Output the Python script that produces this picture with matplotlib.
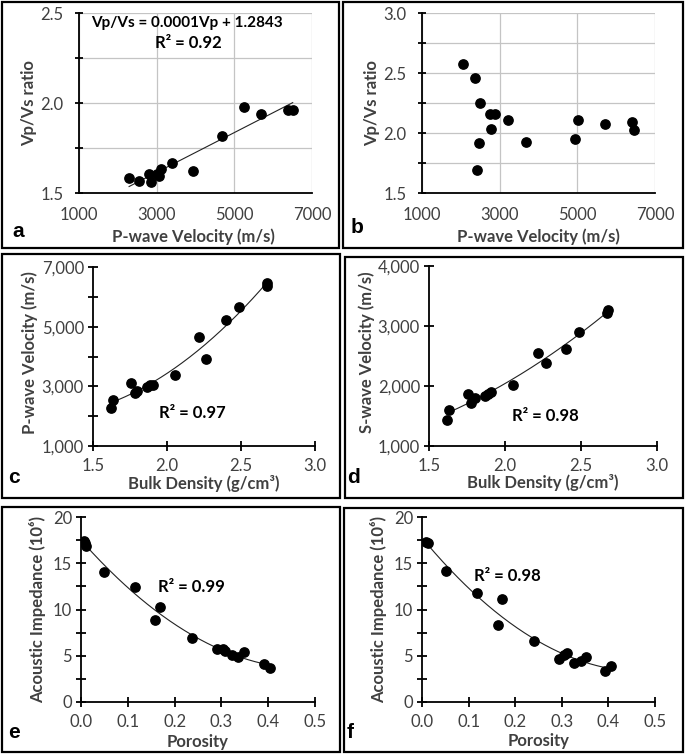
import numpy as np
import matplotlib
matplotlib.use("Agg")
import matplotlib.pyplot as plt
from matplotlib.patches import Rectangle
from matplotlib.ticker import MultipleLocator, FuncFormatter

plt.rcParams['font.family'] = ['Lato', 'DejaVu Sans']

# ---- data ----
# a: Vp vs Vp/Vs
a_vp = [2290, 2556, 2806, 2857, 3003, 3072, 3115, 3390, 3923, 4680, 5247, 5686, 6374, 6503]
a_ratio = [1.585, 1.569, 1.604, 1.561, 1.608, 1.595, 1.636, 1.664, 1.621, 1.816, 1.978, 1.940, 1.961, 1.959]

# b: Vp vs Vp/Vs (second set)
b_vp = [2054, 2371, 2500, 2757, 2869, 2774, 2457, 2414, 3219, 3674, 5010, 4933, 5722, 6399, 6467]
b_ratio = [2.573, 2.462, 2.250, 2.158, 2.158, 2.035, 1.918, 1.695, 2.108, 1.927, 2.108, 1.949, 2.072, 2.094, 2.024]

# c: bulk density vs Vp
c_rho = [1.624, 1.633, 1.756, 1.781, 1.796, 1.864, 1.882, 1.905, 2.051, 2.217, 2.264, 2.400, 2.487, 2.674, 2.678]
c_vp = [2285, 2542, 3101, 2777, 2832, 2978, 3034, 3056, 3380, 4665, 3916, 5223, 5659, 6352, 6475]

# d: bulk density vs Vs
d_rho = [1.621, 1.632, 1.757, 1.779, 1.801, 1.867, 1.889, 1.905, 2.054, 2.219, 2.268, 2.400, 2.487, 2.670, 2.677]
d_vs = [1428, 1595, 1874, 1718, 1807, 1835, 1863, 1902, 2013, 2553, 2386, 2614, 2898, 3209, 3265]

# e: porosity vs acoustic impedance
e_phi = [0.006, 0.009, 0.011, 0.050, 0.116, 0.159, 0.169, 0.238, 0.290, 0.303, 0.308, 0.322, 0.336, 0.349, 0.390, 0.403]
e_ai = [17.4, 17.19, 16.83, 14.02, 12.43, 8.83, 10.27, 6.88, 5.77, 5.73, 5.48, 5.08, 4.86, 5.41, 4.11, 3.64]

# f: porosity vs acoustic impedance (second set)
f_phi = [0.009, 0.012, 0.052, 0.118, 0.171, 0.164, 0.241, 0.294, 0.304, 0.311, 0.327, 0.341, 0.352, 0.393, 0.405]
f_ai = [17.27, 17.16, 14.15, 11.82, 11.09, 8.29, 6.58, 4.62, 5.09, 5.35, 4.25, 4.47, 4.91, 3.35, 3.93]

W, H = 685, 756
fig = plt.figure(figsize=(W / 100, H / 100), dpi=100)

TXT = '#404040'
FS = 12


def px_axes(x0, y0, x1, y1):
    return fig.add_axes([x0 / W, 1 - y1 / H, (x1 - x0) / W, (y1 - y0) / H])


def box(x0, y0, x1, y1):
    fig.patches.append(Rectangle((x0 / W, 1 - y1 / H), (x1 - x0) / W, (y1 - y0) / H,
                                 transform=fig.transFigure, fill=False,
                                 edgecolor='black', linewidth=1.6))


def base_style(ax):
    for s in ['top', 'right']:
        ax.spines[s].set_visible(False)
    for s in ['left', 'bottom']:
        ax.spines[s].set_linewidth(1.3)
        ax.spines[s].set_color('black')
    ax.tick_params(labelsize=FS, labelcolor=TXT)
    ax.set_facecolor('none')


def labels(ax, xl, yl, xc, yc_x, ylx, yly):
    ax.set_xlabel(xl, fontsize=FS, fontweight='bold', color=TXT, va='center')
    ax.xaxis.set_label_coords(xc, yc_x)
    ax.set_ylabel(yl, fontsize=FS, fontweight='bold', color=TXT, va='center')
    ax.yaxis.set_label_coords(ylx, yly)


def letter(s, x, y):
    fig.text(x / W, 1 - y / H, s, fontsize=15, fontweight='bold',
             family=['Liberation Sans', 'DejaVu Sans'], ha='left', va='baseline')


def trend(ax, x, y, deg):
    c = np.polyfit(x, y, deg)
    xx = np.linspace(min(x), max(x), 200)
    ax.plot(xx, np.polyval(c, xx), color='#222222', lw=0.8, zorder=2)


def note(ax, s, x, y, fs=FS):
    ax.text(x, y, s, transform=ax.transAxes, ha='center', va='center',
            fontsize=fs, fontweight='bold', color='black')


comma = FuncFormatter(lambda v, p: f'{v:,.0f}')
one_dec = FuncFormatter(lambda v, p: f'{v:.1f}')
MS = 45

# ---------- panel a ----------
box(2, 2, 339, 248)
ax = px_axes(79, 13, 312, 193)
base_style(ax)
ax.scatter(a_vp, a_ratio, s=MS, color='black', zorder=3)
trend(ax, a_vp, a_ratio, 1)
ax.set_xlim(1000, 7000)
ax.set_ylim(1.5, 2.5)
ax.set_xticks([1000, 3000, 5000, 7000])
ax.set_yticks([1.5, 2.0, 2.5])
ax.yaxis.set_minor_locator(MultipleLocator(0.25))
ax.yaxis.set_major_formatter(one_dec)
ax.grid(True, which='both', axis='y', color='#c4c4c4', lw=0.9)
ax.grid(True, which='major', axis='x', color='#c4c4c4', lw=0.9)
ax.set_axisbelow(True)
ax.tick_params(axis='x', length=0, pad=10)
ax.tick_params(axis='y', which='both', direction='inout', length=6, width=1.3, pad=8)
labels(ax, 'P-wave Velocity (m/s)', 'Vp/Vs ratio', 0.49, -0.244, -0.215, 0.5)
note(ax, 'Vp/Vs = 0.0001Vp + 1.2843', 0.464, 0.944, fs=11)
note(ax, 'R² = 0.92', 0.468, 0.833)
letter('a', 12, 237)

# ---------- panel b ----------
box(343, 2, 683, 248)
ax = px_axes(422, 13, 655, 193)
base_style(ax)
ax.scatter(b_vp, b_ratio, s=MS, color='black', zorder=3)
ax.set_xlim(1000, 7000)
ax.set_ylim(1.5, 3.0)
ax.set_xticks([1000, 3000, 5000, 7000])
ax.set_yticks([1.5, 2.0, 2.5, 3.0])
ax.yaxis.set_minor_locator(MultipleLocator(0.25))
ax.yaxis.set_major_formatter(one_dec)
ax.grid(True, which='both', axis='y', color='#c4c4c4', lw=0.9)
ax.grid(True, which='major', axis='x', color='#c4c4c4', lw=0.9)
ax.set_axisbelow(True)
ax.tick_params(axis='x', length=0, pad=10)
ax.tick_params(axis='y', which='both', direction='inout', length=6, width=1.3, pad=8)
labels(ax, 'P-wave Velocity (m/s)', 'Vp/Vs ratio', 0.5, -0.244, -0.215, 0.5)
letter('b', 351, 233)

# ---------- panel c ----------
box(2, 254, 340, 498)
ax = px_axes(93, 267, 315, 446)
base_style(ax)
ax.scatter(c_rho, c_vp, s=MS, color='black', zorder=3)
trend(ax, c_rho, c_vp, 2)
ax.set_xlim(1.5, 3.0)
ax.set_ylim(1000, 7000)
ax.set_xticks([1.5, 2.0, 2.5, 3.0])
ax.set_yticks([1000, 3000, 5000, 7000])
ax.yaxis.set_minor_locator(MultipleLocator(1000))
ax.yaxis.set_major_formatter(comma)
ax.xaxis.set_major_formatter(one_dec)
ax.tick_params(which='both', direction='inout', length=7, width=1.3, pad=3)
ax.tick_params(axis='x', pad=5)
labels(ax, 'Bulk Density (g/cm³)', 'P-wave Velocity (m/s)', 0.5, -0.21, -0.285, 0.52)
note(ax, 'R² = 0.97', 0.446, 0.184)
letter('c', 8, 483)

# ---------- panel d ----------
box(345, 257, 683, 498)
ax = px_axes(429, 266, 657, 446)
base_style(ax)
ax.scatter(d_rho, d_vs, s=MS, color='black', zorder=3)
trend(ax, d_rho, d_vs, 2)
ax.set_xlim(1.5, 3.0)
ax.set_ylim(1000, 4000)
ax.set_xticks([1.5, 2.0, 2.5, 3.0])
ax.set_yticks([1000, 2000, 3000, 4000])
ax.yaxis.set_major_formatter(comma)
ax.xaxis.set_major_formatter(one_dec)
ax.tick_params(which='both', direction='inout', length=7, width=1.3, pad=3)
ax.tick_params(axis='x', pad=5)
labels(ax, 'Bulk Density (g/cm³)', 'S-wave Velocity (m/s)', 0.5, -0.205, -0.275, 0.52)
note(ax, 'R² = 0.98', 0.509, 0.167)
letter('d', 347, 483)

# ---------- panel e ----------
box(2, 507, 340, 752)
ax = px_axes(81, 517, 315, 702)
base_style(ax)
ax.scatter(e_phi, e_ai, s=MS, color='black', zorder=3)
trend(ax, e_phi, e_ai, 2)
ax.set_xlim(0, 0.5)
ax.set_ylim(0, 20)
ax.set_xticks(np.arange(0, 0.51, 0.1))
ax.set_yticks([0, 5, 10, 15, 20])
ax.yaxis.set_minor_locator(MultipleLocator(2.5))
ax.xaxis.set_major_formatter(one_dec)
ax.tick_params(which='both', direction='inout', length=7, width=1.3, pad=3)
ax.tick_params(axis='x', pad=5)
labels(ax, 'Porosity', 'Acoustic Impedance (10⁶)', 0.5, -0.216, -0.185, 0.5)
note(ax, 'R² = 0.99', 0.474, 0.622)
letter('e', 8, 738)

# ---------- panel f ----------
box(344, 508, 683, 752)
ax = px_axes(422, 517, 655, 702)
base_style(ax)
ax.scatter(f_phi, f_ai, s=MS, color='black', zorder=3)
trend(ax, f_phi, f_ai, 2)
ax.set_xlim(0, 0.5)
ax.set_ylim(0, 20)
ax.set_xticks(np.arange(0, 0.51, 0.1))
ax.set_yticks([0, 5, 10, 15, 20])
ax.yaxis.set_minor_locator(MultipleLocator(2.5))
ax.xaxis.set_major_formatter(one_dec)
ax.tick_params(which='both', direction='inout', length=7, width=1.3, pad=3)
ax.tick_params(axis='x', pad=5)
labels(ax, 'Porosity', 'Acoustic Impedance (10⁶)', 0.5, -0.21, -0.185, 0.5)
note(ax, 'R² = 0.98', 0.365, 0.681)
letter('f', 347, 738)

fig.savefig('out.png', dpi=100)
